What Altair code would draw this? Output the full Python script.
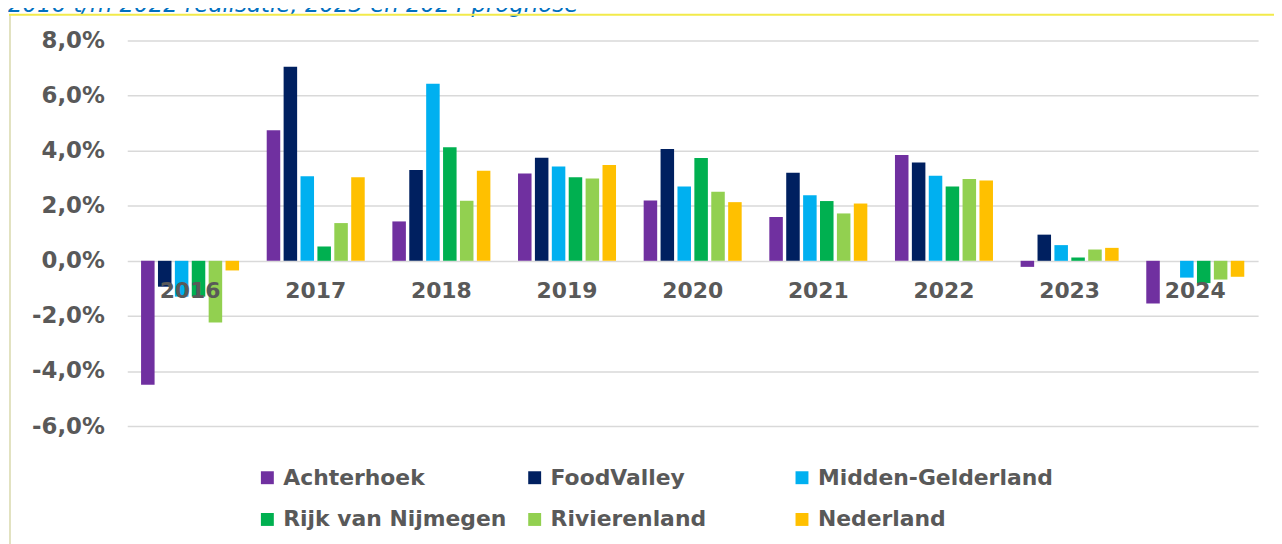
import altair as alt
import pandas as pd

years = ["2016", "2017", "2018", "2019", "2020", "2021", "2022", "2023", "2024"]
regions = ["Achterhoek", "FoodValley", "Midden-Gelderland",
           "Rijk van Nijmegen", "Rivierenland", "Nederland"]
colors = ["#7030A0", "#002060", "#00B0F0", "#00B050", "#92D050", "#FFC000"]

achterhoek = [-4.5, 4.74, 1.43, 3.17, 2.19, 1.59, 3.84, -0.22, -1.55]
foodvalley = [-0.94, 7.05, 3.30, 3.74, 4.06, 3.20, 3.57, 0.95, None]
midden_gelderland = [-1.3, 3.07, 6.43, 3.42, 2.70, 2.38, 3.09, 0.57, -0.61]
rijk_van_nijmegen = [-1.3, 0.52, 4.12, 3.03, 3.73, 2.17, 2.70, 0.12, -0.81]
rivierenland = [-2.24, 1.37, 2.18, 2.99, 2.51, 1.72, 2.97, 0.41, -0.68]
nederland = [-0.35, 3.03, 3.27, 3.48, 2.13, 2.08, 2.92, 0.47, -0.58]

title_text = ["2016 t/m 2022 realisatie, 2023 en 2024 prognose"]

series = [achterhoek, foodvalley, midden_gelderland, rijk_van_nijmegen, rivierenland, nederland]
rows = []
for reg, vals in zip(regions, series):
    for y, v in zip(years, vals):
        rows.append({"year": y, "region": reg, "value": v})
df = pd.DataFrame(rows)
df_years = pd.DataFrame({"year": years})

FONT = "DejaVu Sans"
GRAY = "#595959"

x_enc = alt.X("year:N", sort=years, axis=None,
              scale=alt.Scale(paddingInner=0.22, paddingOuter=0.11))
y_scale = alt.Scale(domain=[-6, 8], nice=False, zero=False)

label_expr = ("(datum.value < 0 ? '-' : '') + "
              "replace(format(abs(datum.value), '.1f'), '.', ',') + '%'")

bars = alt.Chart(df).mark_bar().encode(
    x=x_enc,
    xOffset=alt.XOffset("region:N", sort=regions, scale=alt.Scale(paddingInner=0.2)),
    y=alt.Y("value:Q", scale=y_scale, title=None,
            axis=alt.Axis(values=[-6, -4, -2, 0, 2, 4, 6, 8], labelExpr=label_expr,
                          domain=False, ticks=False, grid=True, gridColor="#D9D9D9",
                          gridWidth=1.5, labelFont=FONT, labelFontSize=23,
                          labelFontWeight="bold", labelColor=GRAY, labelPadding=23)),
    color=alt.Color("region:N", sort=regions,
                    scale=alt.Scale(domain=regions, range=colors),
                    legend=alt.Legend(orient="none", legendX=130, legendY=429,
                                      direction="horizontal",
                                      columns=3, title=None, symbolType="square",
                                      symbolSize=169, symbolStrokeWidth=0,
                                      labelFont=FONT, labelFontSize=22,
                                      labelFontWeight="bold", labelColor=GRAY,
                                      labelOffset=5, columnPadding=5, rowPadding=20,
                                      gridAlign="all", labelLimit=400)),
)

year_labels = alt.Chart(df_years).mark_text(
    font=FONT, fontSize=22, fontWeight="bold", color=GRAY, dy=30, baseline="middle"
).encode(
    x=x_enc,
    y=alt.datum(0),
    text="year:N",
)

title_df = pd.DataFrame({"t": title_text})
title_mark = alt.Chart(title_df).mark_text(
    font=FONT, fontSize=23, fontStyle="italic", color="#0070C0",
    align="left", baseline="alphabetic"
).encode(x=alt.value(-120), y=alt.value(-29), text="t:N")

one = pd.DataFrame({"k": [0]})
left_border = alt.Chart(one).mark_rule(color="#E2E2C0", strokeWidth=2).encode(
    x=alt.value(-118), y=alt.value(-26), y2=alt.value(510))
top_border = alt.Chart(one).mark_rule(color="#F2EA4A", strokeWidth=2).encode(
    x=alt.value(-119), x2=alt.value(1160), y=alt.value(-26))

chart = alt.layer(bars, year_labels, title_mark, left_border, top_border).properties(
    width=1138, height=388,
    autosize=alt.AutoSizeParams(type="none"),
    padding={"left": 120, "top": 31, "right": 16, "bottom": 117},
).configure_view(stroke=None)

chart.save("out.html", embed_options={"renderer": "svg", "actions": False})
